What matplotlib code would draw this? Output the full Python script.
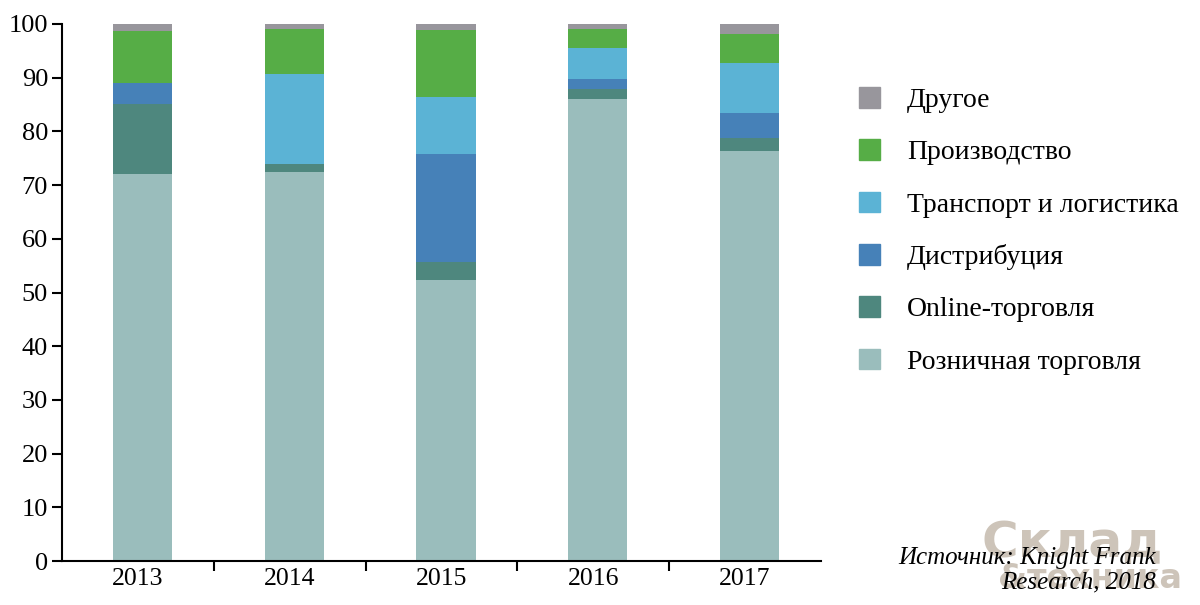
import numpy as np
import matplotlib
matplotlib.use("Agg")
import matplotlib.pyplot as plt
from matplotlib.patches import Patch

plt.rcParams['font.family'] = ['Liberation Serif', 'DejaVu Serif']

years = ['2013', '2014', '2015', '2016', '2017']
labels = ['Розничная торговля', 'Online-торговля', 'Дистрибуция',
          'Транспорт и логистика', 'Производство', 'Другое']
retail = [72.0, 72.5, 52.3, 86.0, 76.4]
online = [13.1, 1.4, 3.4, 1.9, 2.4]
distrib = [3.9, 0.0, 20.1, 1.9, 4.6]
transport = [0.0, 16.8, 10.6, 5.7, 9.3]
production = [9.75, 8.4, 12.5, 3.6, 5.4]
other = [1.25, 0.9, 1.1, 0.9, 1.9]
colors = ['#9abdbc', '#4e877e', '#4681b8', '#5bb3d5', '#56ad46', '#98969c']

series = [retail, online, distrib, transport, production, other]

fig = plt.figure(figsize=(12, 6.05), dpi=100)
ax = fig.add_axes([62/1200, 1-561/605, 759/1200, 537/605])

x = np.arange(len(years))
bottom = np.zeros(len(years))
for vals, col, lab in zip(series, colors, labels):
    ax.bar(x + 0.03, vals, 0.39, bottom=bottom, color=col, label=lab)
    bottom += np.array(vals)

ax.set_xlim(-0.5, 4.5)
ax.set_ylim(0, 100)
ax.set_yticks(range(0, 101, 10))
ax.set_xticks(x)
ax.set_xticklabels(years)
ax.set_xticks(np.arange(0.5, 4.5, 1), minor=True)
ax.tick_params(axis='x', which='major', length=0, labelsize=18.5, pad=5)
ax.tick_params(axis='x', which='minor', length=7, width=1.5, direction='out')
ax.tick_params(axis='y', length=7, width=1.5, labelsize=19, pad=3)
for s in ['top', 'right']:
    ax.spines[s].set_visible(False)
for s in ['left', 'bottom']:
    ax.spines[s].set_linewidth(1.5)

handles = [Patch(color=c, label=l) for c, l in zip(colors, labels)][::-1]
fig.legend(handles=handles, loc='upper left', bbox_to_anchor=(848/1200, 1-76/605),
           frameon=False, fontsize=20, handlelength=0.76, handleheight=0.76,
           handletextpad=0.97, labelspacing=0.95, borderaxespad=0)

# watermark
fig.text(1072/1200, 1-543/605, 'Склад', fontsize=36, color='#cdc4b9',
         fontweight='bold', ha='center', va='center', family='DejaVu Sans',
         zorder=0)
fig.text(1090/1200, 1-578/605, '&техника', fontsize=24, color='#cdc4b9',
         fontweight='bold', ha='center', va='center', family='DejaVu Sans',
         zorder=0)

fig.text(1156/1200, 1-558/605, 'Источник: Knight Frank', fontsize=18,
         style='italic', ha='right', va='center')
fig.text(1156/1200, 1-582/605, 'Research, 2018', fontsize=18,
         style='italic', ha='right', va='center')

fig.savefig('out.png', dpi=100)
